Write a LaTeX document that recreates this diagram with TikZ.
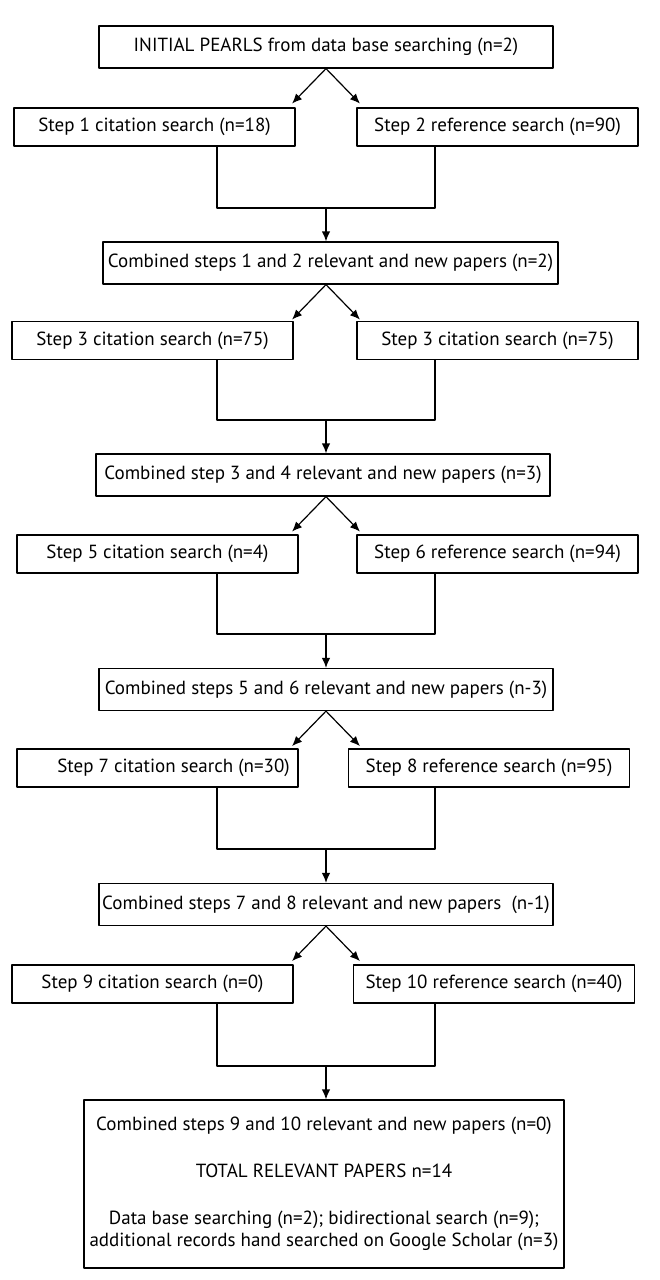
\documentclass[tikz,border=0pt]{standalone}
\usepackage{fontspec}
\setmainfont{PT Sans}
\usetikzlibrary{arrows.meta}
\tikzset{
  box/.style={draw,line width=0.6pt,inner sep=0pt,font=\fontsize{9.5}{11.4}\selectfont},
  wide/.style={box,minimum width=227pt,minimum height=21pt},
  srch/.style={box,minimum width=140.5pt,minimum height=19pt},
  >={Latex[length=5pt,width=4.2pt]}
}
\begin{document}
\begin{tikzpicture}[x=0.5pt,y=-0.5pt,line width=0.6pt,line join=round]
\useasboundingbox (0,0) rectangle (659,1280);
% boxes
\node[wide] (top) at (326,47) {INITIAL PEARLS from data base searching (n=2)};
\node[srch] (s1) at (154.5,127) {Step 1 citation search (n=18)};
\node[srch] (s2) at (497.5,127) {Step 2 reference search (n=90)};
\node[wide,minimum width=227.5pt] (c1) at (330.5,263) {Combined steps 1 and 2 relevant and new papers (n=2)};
\node[srch] (s3) at (152.5,340.5) {Step 3 citation search (n=75)};
\node[srch] (s4) at (497.5,340.5) {Step 3 citation search (n=75)};
\node[wide] (c2) at (323,475) {Combined step 3 and 4 relevant and new papers (n=3)};
\node[srch] (s5) at (157.5,554) {Step 5 citation search (n=4)};
\node[srch] (s6) at (497.5,554) {Step 6 reference search (n=94)};
\node[wide] (c3) at (326,689.5) {Combined steps 5 and 6 relevant and new papers (n-3)};
\node[srch] (s7) at (157.5,768) {\hspace{16pt}Step 7 citation search (n=30)};
\node[srch] (s8) at (489,768) {Step 8 reference search (n=95)};
\node[wide] (c4) at (326,904.5) {Combined steps 7 and 8 relevant and new papers\ \ (n-1)};
\node[srch] (s9) at (152.5,984) {Step 9 citation search (n=0)};
\node[srch] (s10) at (494,984) {Step 10 reference search (n=40)};
\node[box,minimum width=240pt,minimum height=84pt,align=center] (fin) at (324,1184)
  {Combined steps 9 and 10 relevant and new papers (n=0)\\[12pt]
   TOTAL RELEVANT PAPERS n=14\\[12pt]
   Data base searching (n=2); bidirectional search (n=9);\\
   additional records hand searched on Google Scholar (n=3)};
% junctions
\path (326,208) coordinate (j1) (326,420) coordinate (j2) (326,634) coordinate (j3)
      (326,849) coordinate (j4) (326,1066) coordinate (j5);
% splits
\draw[->] (top.south) -- ++(-34,35);
\draw[->] (top.south) -- ++(34,35);
\draw[->] (c1.south -| j1) -- ++(-34,35);
\draw[->] (c1.south -| j1) -- ++(34,35);
\draw[->] (c2.south -| j1) -- ++(-34,35);
\draw[->] (c2.south -| j1) -- ++(34,35);
\draw[->] (c3.south -| j1) -- ++(-34,35);
\draw[->] (c3.south -| j1) -- ++(34,35);
\draw[->] (c4.south -| j1) -- ++(-34,35);
\draw[->] (c4.south -| j1) -- ++(34,35);
% merges
\draw (s1.south -| 217,0) |- (j1) -| (s2.south -| 435,0);
\draw[->] (j1) -- (j1 |- c1.north);
\draw (s3.south -| 217,0) |- (j2) -| (s4.south -| 435,0);
\draw[->] (j2) -- (j2 |- c2.north);
\draw (s5.south -| 217,0) |- (j3) -| (s6.south -| 435,0);
\draw[->] (j3) -- (j3 |- c3.north);
\draw (s7.south -| 217,0) |- (j4) -| (s8.south -| 435,0);
\draw[->] (j4) -- (j4 |- c4.north);
\draw (s9.south -| 217,0) |- (j5) -| (s10.south -| 435,0);
\draw[->] (j5) -- (j5 |- fin.north);
\end{tikzpicture}
\end{document}
